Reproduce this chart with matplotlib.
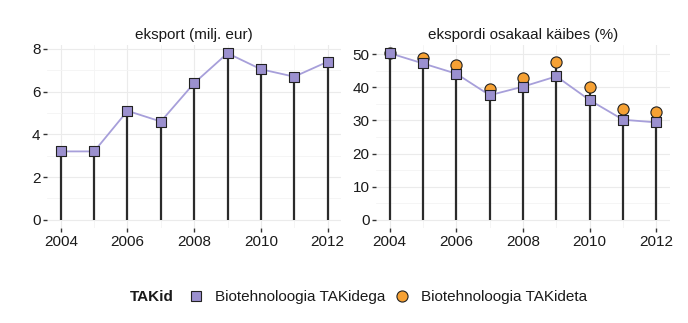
import numpy as np
import matplotlib.pyplot as plt
from matplotlib.lines import Line2D

plt.rcParams['font.family'] = ['Liberation Sans', 'DejaVu Sans']

aastad = [2004, 2005, 2006, 2007, 2008, 2009, 2010, 2011, 2012]
eksport = [3.2, 3.2, 5.1, 4.6, 6.4, 7.8, 7.05, 6.7, 7.4]
osakaal_tak = [50.3, 47.2, 44.1, 37.6, 40.2, 43.3, 36.1, 30.2, 29.4]
osakaal_ilma = [50.3, 48.8, 46.8, 39.6, 42.8, 47.5, 40.0, 33.5, 32.6]
pealkirjad = ['eksport (milj. eur)', 'ekspordi osakaal käibes (%)']
seeriad = ['Biotehnoloogia TAKidega', 'Biotehnoloogia TAKideta']

lilla = '#9b90cf'
lilla_joon = '#a79fda'
oranz = '#f6a134'
must = '#2b2b2b'

fig = plt.figure(figsize=(6.88, 3.23), dpi=100)
ax1 = fig.add_axes([0.069, 0.294, 0.4265, 0.567])
ax2 = fig.add_axes([0.547, 0.294, 0.4265, 0.567])


def kujunda(ax, pealkiri, yticks, ylim):
    for s in ax.spines.values():
        s.set_visible(False)
    ax.set_xlim(2003.6, 2012.4)
    ax.set_ylim(*ylim)
    ax.set_xticks([2004, 2006, 2008, 2010, 2012])
    ax.set_xticks(aastad, minor=True)
    ax.set_yticks(yticks)
    mt = [(yticks[i] + yticks[i + 1]) / 2 for i in range(len(yticks) - 1)]
    ax.set_yticks(mt, minor=True)
    ax.grid(True, which='major', color='#ebebeb', lw=0.8)
    ax.grid(True, which='minor', color='#f4f4f4', lw=0.6)
    ax.tick_params(which='major', length=3, width=1, color='#333333',
                   labelsize=11, labelcolor='#1a1a1a', pad=2)
    ax.tick_params(which='minor', length=0)
    ax.set_axisbelow(True)
    ax.set_title(pealkiri, fontsize=11, color='#1a1a1a', pad=4)


# vasak paneel
ax1.vlines(aastad, 0, eksport, color=must, lw=1.6, zorder=2)
ax1.plot(aastad, eksport, color=lilla_joon, lw=1.3, zorder=3)
ax1.scatter(aastad, eksport, marker='s', s=58, facecolor=lilla,
            edgecolor='#222222', linewidth=0.8, zorder=4)
kujunda(ax1, pealkirjad[0], [0, 2, 4, 6, 8], (-0.39, 8.19))

# parem paneel
tipp = np.maximum(osakaal_tak, osakaal_ilma)
ax2.vlines(aastad, 0, tipp, color=must, lw=1.6, zorder=2)
ax2.plot(aastad, osakaal_tak, color=lilla_joon, lw=1.3, zorder=3)
ax2.scatter(aastad, osakaal_ilma, marker='o', s=65, facecolor=oranz,
            edgecolor='#222222', linewidth=0.8, zorder=4)
ax2.scatter(aastad, osakaal_tak, marker='s', s=58, facecolor=lilla,
            edgecolor='#222222', linewidth=0.8, zorder=5)
kujunda(ax2, pealkirjad[1], [0, 10, 20, 30, 40, 50], (-2.5, 52.8))

# legend
fig.text(0.189, 0.080, 'TAKid', fontsize=11, fontweight='bold',
         color='#1a1a1a', va='center', ha='left')
kasitsejad = [
    Line2D([], [], ls='none', marker='s', markersize=7, markerfacecolor=lilla,
           markeredgecolor='#222222', markeredgewidth=0.8),
    Line2D([], [], ls='none', marker='o', markersize=8, markerfacecolor=oranz,
           markeredgecolor='#222222', markeredgewidth=0.8),
]
fig.legend(kasitsejad, seeriad, loc='center', bbox_to_anchor=(0.5635, 0.080),
           ncol=2, frameon=False, fontsize=11, handlelength=1.0,
           handletextpad=0.75, columnspacing=0.6, labelcolor='#1a1a1a',
           borderpad=0, borderaxespad=0)

fig.savefig('out.png', dpi=100, facecolor='white')
